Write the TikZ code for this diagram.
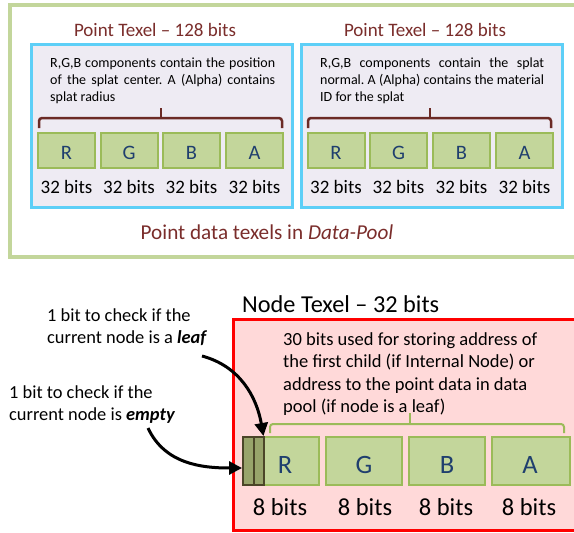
\documentclass[tikz,border=0pt]{standalone}
\usepackage{fontspec}
\setmainfont{Carlito}
\usetikzlibrary{arrows.meta}
\definecolor{dred}{HTML}{7A2D2B}
\definecolor{bracered}{HTML}{6B2A25}
\definecolor{outergreen}{HTML}{C3D69B}
\definecolor{boxfill}{HTML}{C3D69B}
\definecolor{boxline}{HTML}{9BBB59}
\definecolor{cyanline}{HTML}{5DCFF7}
\definecolor{lavender}{HTML}{EEEBF3}
\definecolor{letterblue}{HTML}{1F3F6E}
\definecolor{redfill}{HTML}{FFD9D9}
\definecolor{bitfill}{HTML}{98A46B}
\definecolor{bitline}{HTML}{4B4628}
\frenchspacing
\newcommand{\jline}[2]{\makebox[#1][s]{#2}}
\tikzset{
  fieldbox/.style={draw=boxline, fill=boxfill, line width=2pt, inner sep=0pt},
  bitbox/.style={draw=bitline, fill=bitfill, line width=2pt, inner sep=0pt, minimum width=10.5pt, minimum height=48pt},
  bluebox/.style={draw=cyanline, fill=lavender, line width=3pt, inner sep=0pt, minimum width=261pt, minimum height=163pt, anchor=north west},
  toplet/.style={text=letterblue, font=\fontsize{20.5}{24}\selectfont, anchor=base, inner sep=0pt},
  botlet/.style={text=letterblue, font=\fontsize{26.5}{30}\selectfont, anchor=base, inner sep=0pt},
  bits32/.style={font=\fontsize{19}{22}\selectfont, anchor=base, inner sep=0pt},
  bits8/.style={font=\fontsize{24.5}{28}\selectfont, anchor=base, inner sep=0pt},
  ptitle/.style={text=dred, font=\fontsize{19}{22}\selectfont, anchor=base, inner sep=0pt},
  desc/.style={font=\fontsize{14}{17}\selectfont, align=left, anchor=north west, inner sep=0pt},
  annot/.style={font=\fontsize{18.4}{21.5}\selectfont, align=left, inner sep=0pt},
  arr/.style={line width=3pt, -{Triangle[length=13pt,width=13pt]}},
}
\begin{document}
\begin{tikzpicture}[x=1pt,y=-1pt]
\useasboundingbox (0,0) rectangle (574,533);
\clip (0,0) rectangle (574,533);

% ---------- top panel ----------
\draw[outergreen, line width=3.5pt] (10,5) rectangle (600,257);

\node[bluebox] (leftpanel) at (30,43) {};
\node[bluebox] (rightpanel) at (300,43) {};

\node[ptitle] (lt) at (155,36) {Point Texel -- 128 bits};
\node[ptitle] (rt) at (425,36) {Point Texel -- 128 bits};

\node[desc] (ld) at (50,57.5) {\jline{225pt}{R,G,B components contain the position}\\\jline{225pt}{of the splat center. A (Alpha) contains}\\splat radius};
\node[desc] (rd) at (320,57.5) {\jline{224pt}{R,G,B components contain the splat}\\\jline{224pt}{normal. A (Alpha) contains the material}\\ID for the splat};

% braces
\draw[bracered, line width=2.5pt, rounded corners=3pt] (39,128) -- (39,118) -- (282,118) -- (282,128);
\draw[bracered, line width=2.5pt] (161,118) -- (161,108);
\draw[bracered, line width=2.5pt, rounded corners=3pt] (308,128) -- (308,118) -- (551,118) -- (551,128);
\draw[bracered, line width=2.5pt] (430,118) -- (430,108);

% field boxes
\foreach \n/\cx/\l in {lR/66.5/R, lG/129/G, lB/191.5/B, lA/254.5/A,
                        rR/336/R, rG/398.5/G, rB/461.5/B, rA/524.5/A}{
  \node[fieldbox, minimum width=57pt, minimum height=35pt] (\n) at (\cx,150.5) {};
  \node[toplet] (\n t) at (\cx,159.5) {\l};
  \node[bits32] (\n b) at (\cx,193.5) {32 bits};
}

\node[text=dred, font=\fontsize{21.2}{25}\selectfont, anchor=base, inner sep=0pt] (cap) at (267,239) {Point data texels in \textit{Data-Pool}};

% ---------- bottom panel ----------
\node[font=\fontsize{24.3}{28}\selectfont, anchor=base west, inner sep=0pt] (nt) at (242,312) {Node Texel -- 32 bits};
\draw[red, fill=redfill, line width=3pt] (233,319) rectangle (600,530);

\node[font=\fontsize{18.5}{22.5}\selectfont, align=left, anchor=base west, inner sep=0pt] (addr) at (283,412.5)
  {30 bits used for storing address of\\the first child (if Internal Node) or\\address to the point data in data\\pool (if node is a leaf)};

\draw[boxline, line width=2pt, rounded corners=3pt] (270,433) -- (270,424) -- (564,424) -- (564,433);
\draw[boxline, line width=2pt] (410,424) -- (410,413);

\node[fieldbox, minimum width=76pt, minimum height=48pt] (bR) at (281,461) {};
\node[fieldbox, minimum width=76pt, minimum height=48pt] (bG) at (364,461) {};
\node[fieldbox, minimum width=76pt, minimum height=48pt] (bB) at (447,461) {};
\node[fieldbox, minimum width=78pt, minimum height=48pt] (bA) at (531,461) {};
\node[bitbox] (bit1) at (248.25,461) {};
\node[bitbox] (bit2) at (258.75,461) {};

\node[botlet] (bRt) at (285,473) {R};
\node[botlet] (bGt) at (364,473) {G};
\node[botlet] (bBt) at (447,473) {B};
\node[botlet] (bAt) at (530,473) {A};

\node[bits8] (b8a) at (280,515) {8 bits};
\node[bits8] (b8b) at (365,515) {8 bits};
\node[bits8] (b8c) at (446,515) {8 bits};
\node[bits8] (b8d) at (529,515) {8 bits};

% annotations
\node[annot, anchor=base west] (leaf) at (47,343) {1 bit to check if the\\current node is a \textbf{\textit{leaf}}};
\node[annot, anchor=base west] (empty) at (9,420) {1 bit to check if the\\current node is \textbf{\textit{empty}}};

\coordinate (leafstart) at (202,356);
\coordinate (emptystart) at (148,428);
\draw[arr] (leafstart) to[out=-15, in=100] ([xshift=-1.5pt]bit2.north east);
\draw[arr] (emptystart) to[out=-65, in=180] ([yshift=-7pt]bit1.west);
\end{tikzpicture}
\end{document}
